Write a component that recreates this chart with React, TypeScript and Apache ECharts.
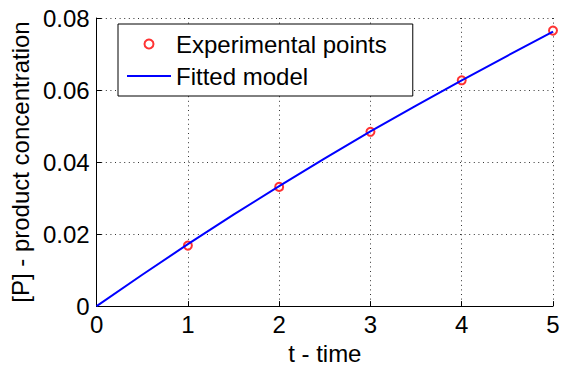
import React, { useEffect, useRef } from "react";
import * as echarts from "echarts";

const expTimes = [1, 2, 3, 4, 5];
const expValues = [0.0168, 0.0331, 0.0484, 0.0627, 0.0765];

const fitTimes = [0, 0.5, 1, 1.5, 2, 2.5, 3, 3.5, 4, 4.5, 5];
const fitValues = [0, 0.0087, 0.0172, 0.0254, 0.0333, 0.041, 0.0485, 0.0557, 0.0627, 0.0695, 0.0762];

const xTicks = [0, 1, 2, 3, 4, 5];
const yTicks = [0, 0.02, 0.04, 0.06, 0.08];

const FONT = "'Liberation Sans', Arial, Helvetica, sans-serif";
const FS = 24;

export default function App() {
  const ref = useRef<HTMLDivElement>(null);
  useEffect(() => {
    if (!ref.current) return;
    const chart = echarts.init(ref.current, undefined, { renderer: "svg" });
    const dotted = { color: "#333", width: 1, type: [1, 3.6] as any };
    chart.setOption({
      animation: false,
      backgroundColor: "#fff",
      textStyle: { fontFamily: FONT },
      grid: { left: 93, right: 10, top: 18, bottom: 55, containLabel: false },
      legend: {
        orient: "vertical",
        left: 118,
        top: 24,
        itemWidth: 44,
        itemHeight: 9,
        itemGap: 8,
        padding: [8, 26, 8, 8],
        borderColor: "#000",
        borderWidth: 1,
        backgroundColor: "#fff",
        textStyle: { fontFamily: FONT, fontSize: FS, color: "#000" },
        data: [
          { name: "Experimental points", icon: "emptyCircle" },
          { name: "Fitted model", itemStyle: { opacity: 0 } },
        ],
      },
      xAxis: {
        type: "value",
        min: xTicks[0],
        max: xTicks[xTicks.length - 1],
        interval: 1,
        name: "t - time",
        nameLocation: "middle",
        nameGap: 34,
        nameTextStyle: { fontFamily: FONT, fontSize: FS, color: "#000" },
        axisLine: { show: true, onZero: false, lineStyle: { color: "#000", width: 1 } },
        axisTick: { show: true, inside: true, length: 5, lineStyle: { color: "#000" } },
        axisLabel: { fontFamily: FONT, fontSize: FS, color: "#000", margin: 6 },
        splitLine: { show: true, lineStyle: dotted },
      },
      yAxis: {
        type: "value",
        min: yTicks[0],
        max: yTicks[yTicks.length - 1],
        interval: 0.02,
        name: "[P] - product concentration",
        nameLocation: "middle",
        nameGap: 64,
        nameTextStyle: { fontFamily: FONT, fontSize: FS, color: "#000" },
        axisLine: { show: true, onZero: false, lineStyle: { color: "#000", width: 1 } },
        axisTick: { show: true, inside: true, length: 5, lineStyle: { color: "#000" } },
        axisLabel: {
          fontFamily: FONT,
          fontSize: FS,
          color: "#000",
          margin: 7,
          formatter: (v: number) => (v === 0 ? "0" : String(+v.toFixed(2))),
        },
        splitLine: { show: true, lineStyle: dotted },
      },
      series: [
        {
          name: "Experimental points",
          type: "scatter",
          symbol: "emptyCircle",
          symbolSize: 8,
          itemStyle: { color: "#ff0000", borderColor: "#ff0000", borderWidth: 1.8 },
          data: expTimes.map((t, i) => [t, expValues[i]]),
          z: 3,
        },
        {
          name: "Fitted model",
          type: "line",
          symbol: "none",
          smooth: false,
          lineStyle: { color: "#0000ff", width: 2 },
          itemStyle: { color: "#0000ff" },
          data: fitTimes.map((t, i) => [t, fitValues[i]]),
          z: 4,
        },
      ],
    });
    return () => chart.dispose();
  }, []);
  return (
    <div
      ref={ref}
      style={{ position: "absolute", left: 0, top: 0, width: 563, height: 370, background: "#fff" }}
    />
  );
}
